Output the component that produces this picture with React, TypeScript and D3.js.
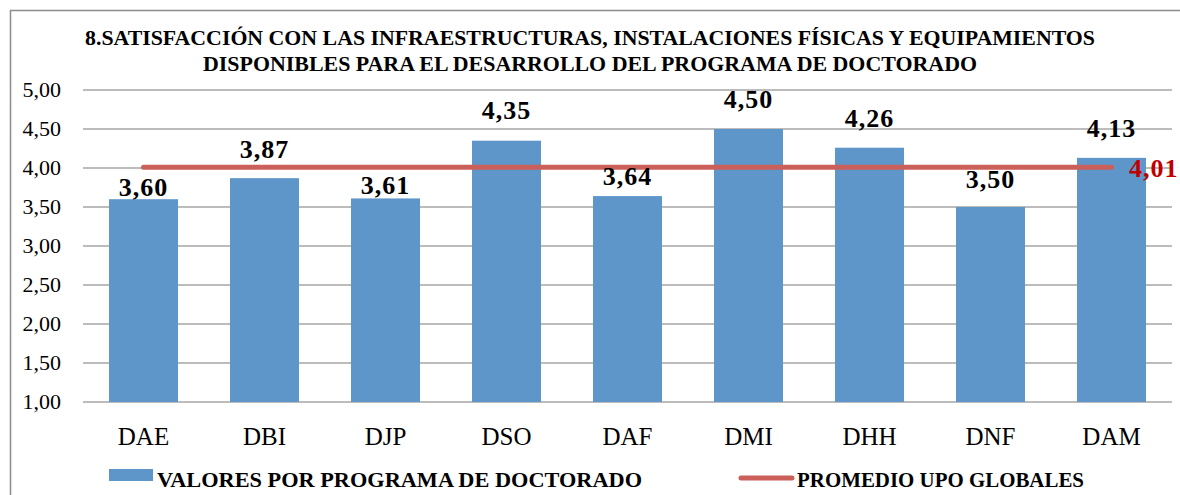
import React, { useEffect, useRef } from "react";
import * as d3 from "d3";

// chart data
const categories = ["DAE", "DBI", "DJP", "DSO", "DAF", "DMI", "DHH", "DNF", "DAM"];
const programValues = [3.6, 3.87, 3.61, 4.35, 3.64, 4.5, 4.26, 3.5, 4.13];
const globalAverage = 4.01;
const yTicks = [1, 1.5, 2, 2.5, 3, 3.5, 4, 4.5, 5];
const titleLines = [
  "8.SATISFACCIÓN CON LAS INFRAESTRUCTURAS, INSTALACIONES FÍSICAS Y EQUIPAMIENTOS",
  "DISPONIBLES PARA EL DESARROLLO DEL PROGRAMA DE DOCTORADO",
];
const legendLabels = ["VALORES POR PROGRAMA DE DOCTORADO", "PROMEDIO UPO GLOBALES"];

// layout: how far each value label sits above its bar (labels were hand-moved around the red line)
const labelLift = [3, 20, 4, 22, 11, 21, 21, 19, 21];

const W = 1180;
const H = 495;
const BAR = "#5F96CA";
const LINE = "#CB5F5A";
const FONT = "'Liberation Serif', 'Times New Roman', serif";

const fmt = (v: number) => v.toFixed(2).replace(".", ",");

export default function App() {
  const ref = useRef<SVGSVGElement>(null);

  useEffect(() => {
    const svg = d3.select(ref.current);
    svg.selectAll("*").remove();

    const x = d3.scaleBand<string>().domain(categories).range([83, 1172]).paddingInner(0.43).paddingOuter(0.215);
    const xc = d3.scaleBand<string>().domain(categories).range([83, 1172]);
    const y = d3.scaleLinear().domain([1, 5]).range([402, 90]);
    const mid = (c: string) => xc(c)! + xc.bandwidth() / 2;

    // frame
    svg.append("path").attr("d", `M10.5,${H} L10.5,10.5 L${W},10.5`).attr("fill", "none").attr("stroke", "#8c8c8c").attr("stroke-width", 1.5);

    // title
    svg.selectAll(".title").data(titleLines).join("text")
      .attr("x", 590).attr("y", (_, i) => 45 + i * 26)
      .attr("text-anchor", "middle").attr("font-family", FONT).attr("font-weight", "bold").attr("font-size", 22)
      .attr("textLength", (_, i) => (i === 0 ? 1010 : 774)).attr("lengthAdjust", "spacingAndGlyphs")
      .attr("fill", "#000").text((d) => d);

    // gridlines + y labels
    const g = svg.append("g");
    g.selectAll(".grid").data(yTicks).join("line")
      .attr("x1", 83).attr("x2", 1172).attr("y1", (d) => y(d)).attr("y2", (d) => y(d))
      .attr("stroke", "#a6a6a6").attr("stroke-width", 1.5);
    g.selectAll(".ylab").data(yTicks).join("text")
      .attr("x", 61).attr("y", (d) => y(d) + 7).attr("text-anchor", "end")
      .attr("font-family", FONT).attr("font-size", 22).attr("fill", "#000").text((d) => fmt(d));

    // bars
    g.selectAll(".bar").data(programValues).join("rect")
      .attr("x", (_, i) => x(categories[i])!).attr("width", x.bandwidth())
      .attr("y", (d) => y(d)).attr("height", (d) => y(1) - y(d)).attr("fill", BAR);

    // average line
    g.append("line").attr("x1", mid(categories[0])).attr("x2", mid(categories[categories.length - 1]))
      .attr("y1", y(globalAverage)).attr("y2", y(globalAverage))
      .attr("stroke", LINE).attr("stroke-width", 5).attr("stroke-linecap", "round");

    // value labels
    g.selectAll(".val").data(programValues).join("text")
      .attr("x", (_, i) => mid(categories[i])).attr("y", (d, i) => y(d) - labelLift[i])
      .attr("text-anchor", "middle").attr("font-family", FONT).attr("font-weight", "bold").attr("font-size", 26)
      .attr("letter-spacing", 1).attr("fill", "#000").text((d) => fmt(d));
    g.append("text").attr("x", 1129).attr("y", y(globalAverage) + 10)
      .attr("font-family", FONT).attr("font-weight", "bold").attr("font-size", 26).attr("letter-spacing", 1)
      .attr("fill", "#C00000").text(fmt(globalAverage));

    // category labels
    g.selectAll(".cat").data(categories).join("text")
      .attr("x", (d) => mid(d)).attr("y", 445).attr("text-anchor", "middle")
      .attr("font-family", FONT).attr("font-size", 25).attr("fill", "#000").text((d) => d);

    // legend
    const leg = svg.append("g");
    leg.append("rect").attr("x", 109).attr("y", 469).attr("width", 44).attr("height", 12).attr("fill", BAR);
    leg.append("text").attr("x", 157).attr("y", 487).attr("font-family", FONT).attr("font-weight", "bold")
      .attr("font-size", 22).attr("textLength", 485).attr("lengthAdjust", "spacingAndGlyphs")
      .attr("fill", "#000").text(legendLabels[0]);
    leg.append("line").attr("x1", 741).attr("x2", 792).attr("y1", 478).attr("y2", 478)
      .attr("stroke", LINE).attr("stroke-width", 5).attr("stroke-linecap", "round");
    leg.append("text").attr("x", 797).attr("y", 487).attr("font-family", FONT).attr("font-weight", "bold")
      .attr("font-size", 22).attr("textLength", 287).attr("lengthAdjust", "spacingAndGlyphs")
      .attr("fill", "#000").text(legendLabels[1]);
  }, []);

  return (
    <svg ref={ref} width={W} height={H} style={{ position: "absolute", left: 0, top: 0, background: "#fff" }} />
  );
}
